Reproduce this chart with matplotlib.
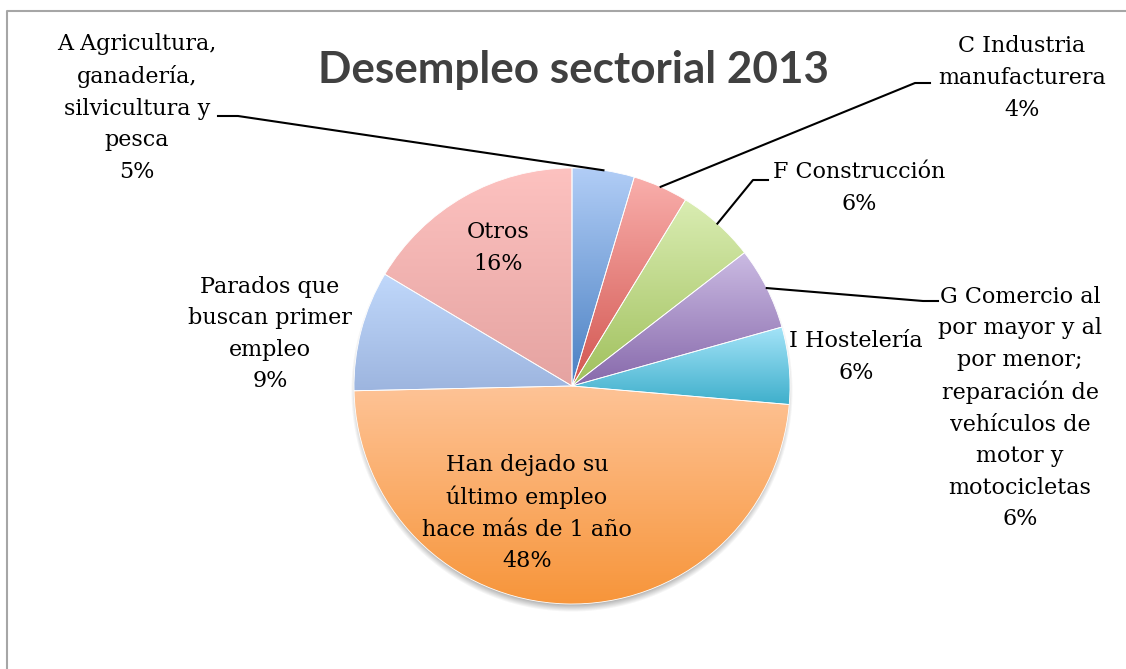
import numpy as np
import matplotlib
matplotlib.use("Agg")
import matplotlib.pyplot as plt
from matplotlib.colors import LinearSegmentedColormap

W, H = 1126, 669

categorias = [
    "A Agricultura,\nganadería,\nsilvicultura y\npesca",
    "C Industria\nmanufacturera",
    "F Construcción",
    "G Comercio al\npor mayor y al\npor menor;\nreparación de\nvehículos de\nmotor y\nmotocicletas",
    "I Hostelería",
    "Han dejado su\núltimo empleo\nhace más de 1 año",
    "Parados que\nbuscan primer\nempleo",
    "Otros",
]
valores = [4.6, 4.1, 5.8, 6.1, 5.7, 48.2, 8.9, 16.4]

# degradado de cada porción: tono claro arriba, tono base abajo
claros = ["#B1CDF6", "#F9AEAB", "#DAEDB3", "#CBBBE3", "#A4E3F8", "#FEC396", "#C0D8FB", "#FDC2C0"]
oscuros = ["#4A80C2", "#D25650", "#A0C05C", "#8769AB", "#3EAFCB", "#F7953A", "#9DB5DF", "#E5A3A1"]

# posiciones (px) de las etiquetas y de las líneas guía
pos_etiquetas = [(137, 108), (1022, 78), (859, 188), (1020, 408),
                 (856, 357), (527, 513), (270, 334), (498, 248)]
guias = {0: (218, 238, 116), 1: (930, 915, 83), 2: (768, 753, 180), 3: (938, 923, 301)}

cx, cy, r = 572, H - 386, 218

fig = plt.figure(figsize=(W / 100, H / 100), dpi=100)
ax = fig.add_axes([0, 0, 1, 1])

# sombra difusa bajo la tarta
yy, xx = np.mgrid[0:H, 0:W] + 0.5
d = np.hypot(xx - cx, yy - (cy - 5))
alfa = np.clip((r + 3 - d) / 9, 0, 1) * 0.5
sombra = np.zeros((H, W, 4))
sombra[..., :3] = 0.3
sombra[..., 3] = alfa
ax.imshow(sombra, extent=(0, W, 0, H), origin="lower", zorder=1, interpolation="bilinear")

wedges, _ = ax.pie(valores, startangle=90, counterclock=False, center=(cx, cy), radius=r,
                   wedgeprops=dict(facecolor="none", edgecolor="white", linewidth=0.6))

grad = np.linspace(0, 1, 256).reshape(-1, 1)
for w, c0, c1 in zip(wedges, claros, oscuros):
    w.set_zorder(3)
    bb = w.get_path().get_extents()
    cmap = LinearSegmentedColormap.from_list("g", [c1, c0])
    im = ax.imshow(grad, cmap=cmap, origin="lower", aspect="auto",
                   extent=(bb.x0, bb.x1, bb.y0, bb.y1), zorder=2)
    im.set_clip_path(w)

for nombre, v, (x, y) in zip(categorias, valores, pos_etiquetas):
    ax.text(x, H - y, f"{nombre}\n{v:.0f}%", ha="center", va="center",
            family="DejaVu Serif", fontsize=16, linespacing=1.56, zorder=5)

for i, (xa, xb, ya) in guias.items():
    w = wedges[i]
    ang = np.deg2rad((w.theta1 + w.theta2) / 2)
    xe, ye = cx + r * np.cos(ang), cy + r * np.sin(ang)
    ax.plot([xa, xb, xe], [H - ya, H - ya, ye], color="black", lw=1.5, zorder=4)

ax.text(573, H - 83, "Desempleo sectorial 2013", ha="center", va="baseline",
        family="Lato", fontweight="bold", fontsize=31.7, color="#404040")

# marco del gráfico
ax.plot([7, 7, W], [0, H - 11, H - 11], color="#A6A6A6", lw=1.5)

ax.set_xlim(0, W)
ax.set_ylim(0, H)
ax.set_aspect("equal")
ax.axis("off")

fig.savefig("out.png", dpi=100)
